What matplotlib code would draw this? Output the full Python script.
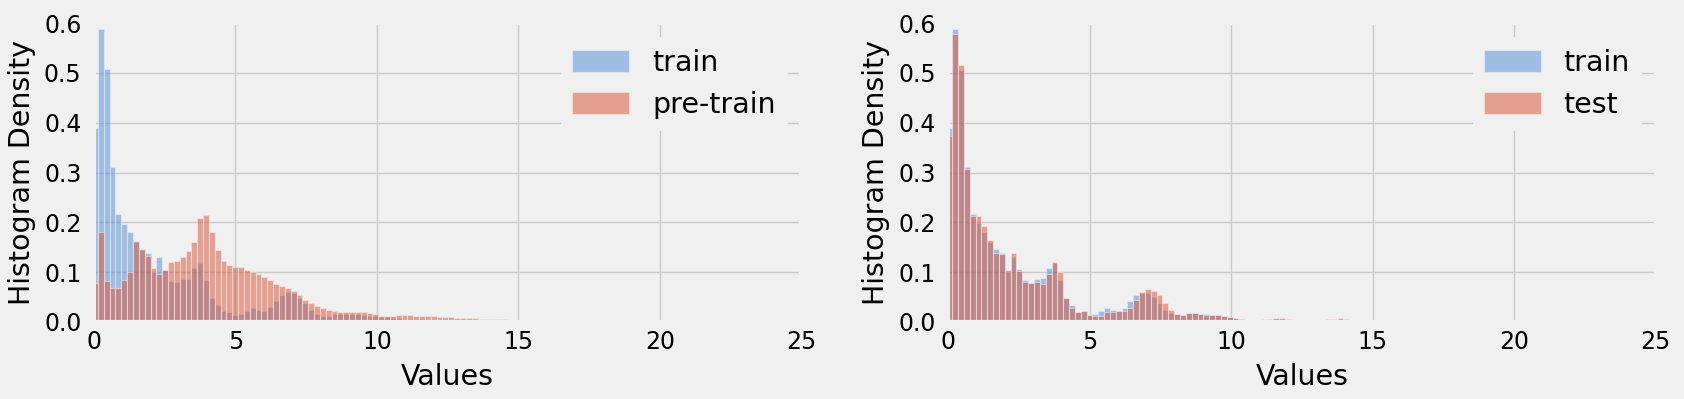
import numpy as np
import matplotlib
matplotlib.use("Agg")
from matplotlib import pyplot as plt

# histogram densities (shared bins)
bin_start = -0.065
bin_width = 0.2064

train_left = [0.389, 0.588, 0.507, 0.312, 0.217, 0.197, 0.181, 0.160, 0.145, 0.138,
              0.101, 0.130, 0.105, 0.083, 0.080, 0.086, 0.087, 0.109, 0.118, 0.084,
              0.049, 0.034, 0.022, 0.021, 0.015, 0.016, 0.022, 0.028, 0.025, 0.023,
              0.030, 0.042, 0.054, 0.060, 0.058, 0.049, 0.038, 0.025, 0.017, 0.013,
              0.013, 0.016, 0.016, 0.017, 0.016, 0.016, 0.015, 0.013, 0.012, 0.011,
              0.010, 0.009, 0.008, 0.007, 0.007, 0.006, 0.006, 0.005, 0.005, 0.004,
              0.004, 0.003, 0.003, 0.002, 0.002, 0.001]
pretrain_left = [0.078, 0.181, 0.083, 0.069, 0.068, 0.084, 0.100, 0.163, 0.146, 0.132,
                 0.108, 0.096, 0.105, 0.121, 0.123, 0.131, 0.143, 0.161, 0.209, 0.215,
                 0.181, 0.145, 0.122, 0.115, 0.111, 0.110, 0.105, 0.101, 0.097, 0.091,
                 0.084, 0.077, 0.073, 0.068, 0.062, 0.055, 0.045, 0.038, 0.033, 0.028,
                 0.025, 0.023, 0.021, 0.021, 0.021, 0.021, 0.020, 0.018, 0.016, 0.013,
                 0.013, 0.013, 0.014, 0.014, 0.014, 0.013, 0.012, 0.012, 0.012, 0.011,
                 0.010, 0.010, 0.009, 0.009, 0.008, 0.008, 0.007, 0.007, 0.007, 0.006,
                 0.006, 0.005, 0.005, 0.005, 0.004, 0.004, 0.003, 0.003, 0.002, 0.002,
                 0.001]

train_right = [0.389, 0.588, 0.506, 0.312, 0.217, 0.198, 0.180, 0.161, 0.146, 0.138,
               0.101, 0.131, 0.107, 0.084, 0.079, 0.087, 0.088, 0.109, 0.119, 0.084,
               0.049, 0.035, 0.021, 0.023, 0.015, 0.017, 0.022, 0.028, 0.025, 0.023,
               0.029, 0.042, 0.054, 0.059, 0.058, 0.051, 0.039, 0.025, 0.018, 0.017,
               0.015, 0.018, 0.019, 0.017, 0.017, 0.015, 0.015, 0.012, 0.010, 0.008,
               0.006, 0.005, 0.005, 0.005, 0.006, 0.007, 0.007, 0.006, 0.005, 0.005,
               0.005, 0.004, 0.004, 0.004, 0.004, 0.005, 0.005, 0.006, 0.005, 0.003]
test_right = [0.374, 0.578, 0.516, 0.308, 0.213, 0.212, 0.192, 0.164, 0.139, 0.137,
              0.104, 0.139, 0.103, 0.081, 0.079, 0.081, 0.077, 0.097, 0.120, 0.100,
              0.049, 0.029, 0.021, 0.023, 0.015, 0.012, 0.013, 0.020, 0.021, 0.023,
              0.023, 0.028, 0.044, 0.060, 0.066, 0.062, 0.054, 0.039, 0.025, 0.017,
              0.015, 0.019, 0.019, 0.017, 0.015, 0.015, 0.015, 0.013, 0.011, 0.009,
              0.007, 0.005, 0.004, 0.004, 0.005, 0.006, 0.009, 0.008, 0.006, 0.005,
              0.004, 0.003, 0.003, 0.003, 0.004, 0.006, 0.007, 0.009, 0.007, 0.004]

x_ticks = [0, 5, 10, 15, 20, 25]
y_ticks = [0.0, 0.1, 0.2, 0.3, 0.4, 0.5, 0.6]

BLUE = "#508cd8"
RED = "#dc5032"


def PlotHist(ax, first, second, labels):
    for heights, color, label in zip([first, second], [BLUE, RED], labels):
        edges = bin_start + bin_width * np.arange(len(heights) + 1)
        centers = edges[:-1] + bin_width / 2
        ax.hist(centers, bins=edges, weights=heights, color=color, alpha=0.5,
                edgecolor="#f0f0f0", linewidth=0.8, label=label)
    ax.set_xlim(0, 25)
    ax.set_ylim(0, 0.6)
    ax.set_xticks(x_ticks)
    ax.set_yticks(y_ticks)
    ax.set_yticklabels(["%.1f" % v for v in y_ticks])
    ax.set_xlabel("Values", fontsize=20.5, labelpad=6)
    ax.set_ylabel("Histogram Density", fontsize=20.5, labelpad=6)
    ax.tick_params(axis="x", labelsize=17, pad=6)
    ax.tick_params(axis="y", labelsize=17, pad=9)
    leg = ax.legend(loc="upper right", fontsize=20.5, frameon=True, framealpha=1.0,
                    handlelength=2.0, handleheight=0.8)
    leg.get_frame().set_edgecolor("#f0f0f0")


plt.style.use("fivethirtyeight")
fig = plt.figure(figsize=(16.84, 3.99), dpi=100)
ax1 = fig.add_axes([0.0558, 0.193, 0.42, 0.749])
ax2 = fig.add_axes([0.5631, 0.193, 0.42, 0.749])

PlotHist(ax1, train_left, pretrain_left, ["train", "pre-train"])
PlotHist(ax2, train_right, test_right, ["train", "test"])

fig.savefig("out.png", dpi=100, facecolor="#f0f0f0")
